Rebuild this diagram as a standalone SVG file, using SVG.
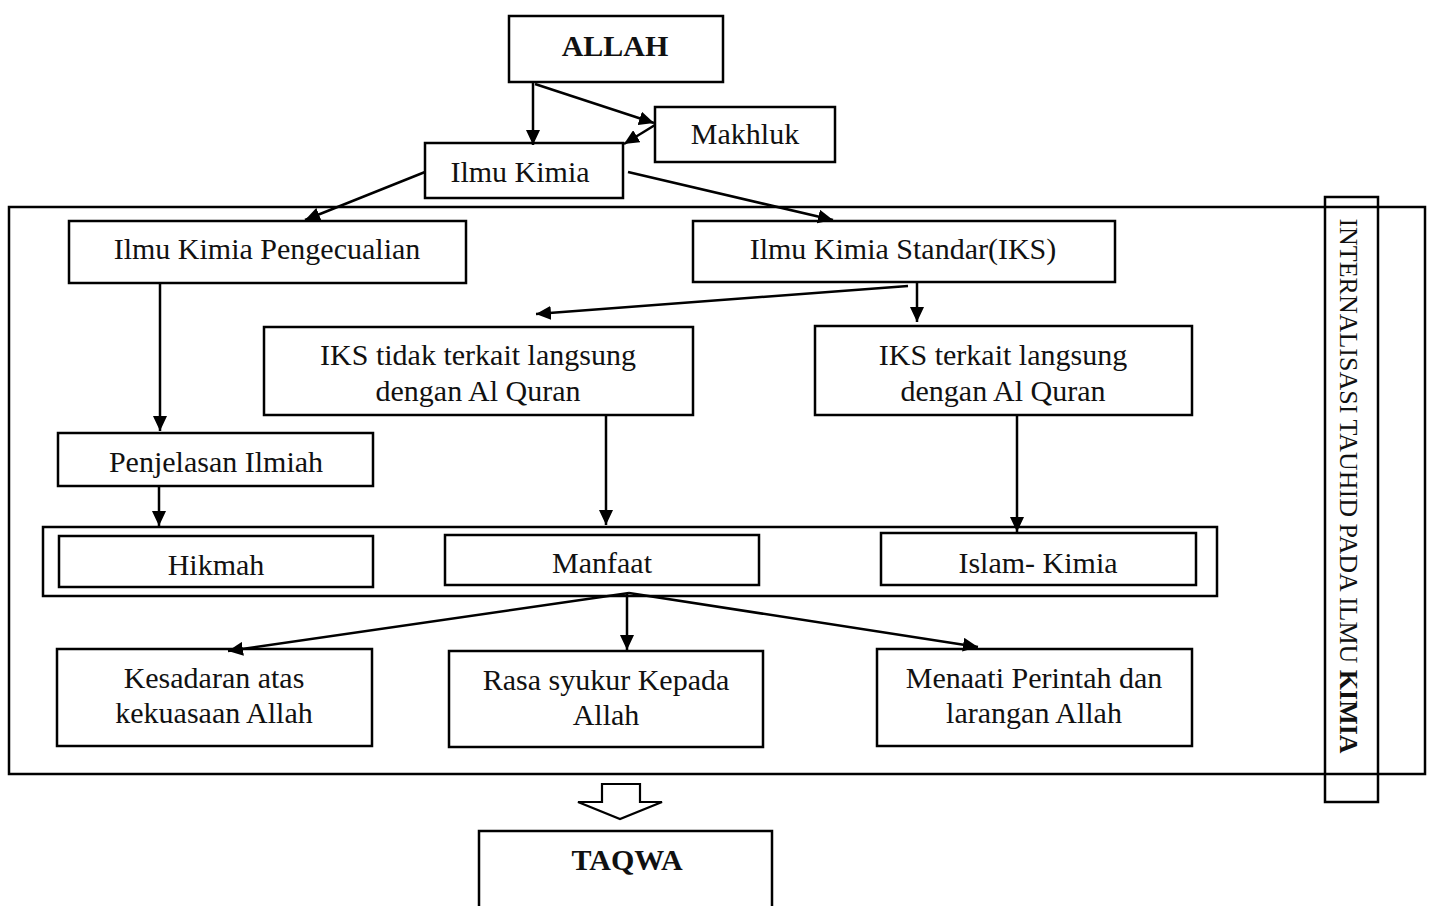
<svg xmlns="http://www.w3.org/2000/svg" width="1432" height="906" viewBox="0 0 1432 906">
<style>
rect{fill:none;stroke:#000;stroke-width:2.5}
text{font-family:"Liberation Serif","Times New Roman",serif;font-size:30px;fill:#111;text-anchor:middle}
.b{font-weight:bold}
.conn line{stroke:#000;stroke-width:2.5;marker-end:url(#ah)}
</style>
<defs>
<marker id="ah" markerUnits="userSpaceOnUse" markerWidth="16" markerHeight="14" refX="15" refY="7" orient="auto">
<path d="M0,0 L15,7 L0,14 z" fill="#000"/>
</marker>
</defs>
<rect x="0" y="0" width="1432" height="906" fill="#fff" style="fill:#fff;stroke:none"/>
<g id="outer"><rect x="9" y="207" width="1416" height="567"/></g>
<g id="label">
<rect x="1325" y="197" width="53" height="605"/>
<text transform="translate(1340,486) rotate(90)" style="font-size:26px">INTERNALISASI TAUHID PADA ILMU <tspan class="b">KIMIA</tspan></text>
</g>
<g id="allah"><rect x="509" y="16" width="214" height="66"/><text x="615" y="56" class="b">ALLAH</text></g>
<g id="makhluk"><rect x="655" y="107" width="180" height="55"/><text x="745" y="144">Makhluk</text></g>
<g id="ilmukimia"><rect x="425" y="143" width="198" height="55"/><text x="520" y="182">Ilmu Kimia</text></g>
<g id="pengecualian"><rect x="69" y="221" width="397" height="62"/><text x="267" y="259">Ilmu Kimia Pengecualian</text></g>
<g id="iks"><rect x="693" y="221" width="422" height="61"/><text x="903" y="259">Ilmu Kimia Standar(IKS)</text></g>
<g id="ikstidak"><rect x="264" y="327" width="429" height="88"/><text x="478" y="365">IKS tidak terkait langsung</text><text x="478" y="401">dengan Al Quran</text></g>
<g id="iksterkait"><rect x="815" y="326" width="377" height="89"/><text x="1003" y="365">IKS terkait langsung</text><text x="1003" y="401">dengan Al Quran</text></g>
<g id="penjelasan"><rect x="58" y="433" width="315" height="53"/><text x="216" y="472">Penjelasan Ilmiah</text></g>
<g id="group"><rect x="43" y="527" width="1174" height="69"/></g>
<g id="hikmah"><rect x="59" y="536" width="314" height="51"/><text x="216" y="575">Hikmah</text></g>
<g id="manfaat"><rect x="445" y="535" width="314" height="50"/><text x="602" y="573">Manfaat</text></g>
<g id="islamkimia"><rect x="881" y="533" width="315" height="52"/><text x="1038" y="573">Islam- Kimia</text></g>
<g id="kesadaran"><rect x="57" y="649" width="315" height="97"/><text x="214" y="688">Kesadaran atas</text><text x="214" y="723">kekuasaan Allah</text></g>
<g id="rasa"><rect x="449" y="651" width="314" height="96"/><text x="606" y="690">Rasa syukur Kepada</text><text x="606" y="725">Allah</text></g>
<g id="menaati"><rect x="877" y="649" width="315" height="97"/><text x="1034" y="688">Menaati Perintah dan</text><text x="1034" y="723">larangan Allah</text></g>
<g id="taqwa"><rect x="479" y="831" width="293" height="100"/><text x="627" y="870" class="b">TAQWA</text></g>
<g id="connectors" class="conn">
<line x1="533" y1="82" x2="533" y2="145"/>
<line x1="535" y1="84" x2="654" y2="123"/>
<line x1="655" y1="125" x2="624" y2="144"/>
<line x1="425" y1="172" x2="305" y2="220"/>
<line x1="628" y1="172" x2="833" y2="220"/>
<line x1="908" y1="286" x2="536" y2="314"/>
<line x1="917" y1="282" x2="917" y2="322"/>
<line x1="160" y1="283" x2="160" y2="431"/>
<line x1="159" y1="486" x2="159" y2="526"/>
<line x1="606" y1="416" x2="606" y2="525"/>
<line x1="1017" y1="415" x2="1017" y2="532"/>
<line x1="629" y1="593" x2="228" y2="651"/>
<line x1="627" y1="593" x2="627" y2="650"/>
<line x1="629" y1="593" x2="978" y2="647"/>
<polygon points="602,784 640,784 640,802 662,802 620,819 578,802 602,802" fill="#fff" stroke="#000" stroke-width="2.2"/>
</g>
</svg>
